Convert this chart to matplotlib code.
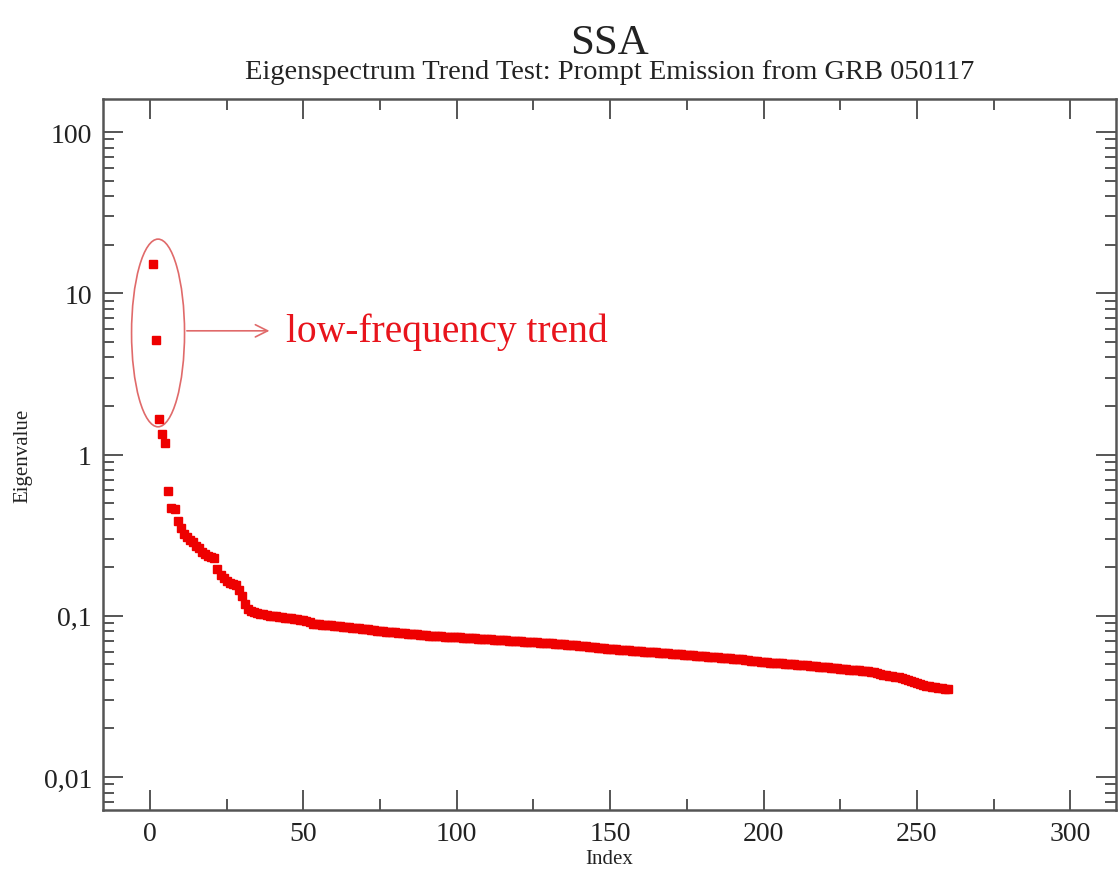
import numpy as np
import matplotlib
matplotlib.use('Agg')
from matplotlib import pyplot as plt
from matplotlib.patches import Ellipse
from matplotlib.ticker import FixedLocator, LogLocator, MultipleLocator, NullFormatter

# eigenvalues, index 1..260
eig_1_60 = [
    15.2, 5.15, 1.65, 1.34, 1.18, 0.594, 0.466, 0.462, 0.387, 0.352,
    0.322, 0.310, 0.295, 0.285, 0.272, 0.262, 0.250, 0.240, 0.236, 0.232,
    0.229, 0.196, 0.180, 0.172, 0.165, 0.159, 0.157, 0.155, 0.145, 0.133,
    0.119, 0.110, 0.107, 0.105, 0.104, 0.103, 0.102, 0.101, 0.100, 0.0995,
    0.0990, 0.0985, 0.0980, 0.0975, 0.0970, 0.0965, 0.0960, 0.0952, 0.0945, 0.0938,
    0.0930, 0.0920, 0.0895, 0.0890, 0.0886, 0.0882, 0.0878, 0.0875, 0.0871, 0.0867,
]
eig_61_130 = [
    0.0862, 0.0858, 0.0854, 0.0850, 0.0846, 0.0842, 0.0838, 0.0834, 0.0830, 0.0826,
    0.0822, 0.0818, 0.0814, 0.0810, 0.0806, 0.0802, 0.0798, 0.0795, 0.0791, 0.0788,
    0.0785, 0.0781, 0.0778, 0.0775, 0.0772, 0.0769, 0.0766, 0.0763, 0.0760, 0.0757,
    0.0754, 0.0751, 0.0749, 0.0747, 0.0745, 0.0743, 0.0741, 0.0739, 0.0737, 0.0735,
    0.0733, 0.0731, 0.0729, 0.0727, 0.0725, 0.0723, 0.0721, 0.0719, 0.0717, 0.0715,
    0.0713, 0.0711, 0.0709, 0.0707, 0.0705, 0.0703, 0.0701, 0.0699, 0.0697, 0.0695,
    0.0693, 0.0691, 0.0689, 0.0687, 0.0685, 0.0683, 0.0681, 0.0679, 0.0677, 0.0675,
]
eig_131_200 = [
    0.0673, 0.0671, 0.0669, 0.0667, 0.0665, 0.0663, 0.0660, 0.0657, 0.0654, 0.0651,
    0.0648, 0.0645, 0.0642, 0.0639, 0.0636, 0.0633, 0.0630, 0.0627, 0.0624, 0.0622,
    0.0620, 0.0618, 0.0616, 0.0614, 0.0612, 0.0610, 0.0608, 0.0606, 0.0604, 0.0602,
    0.0600, 0.0598, 0.0596, 0.0594, 0.0592, 0.0590, 0.0588, 0.0586, 0.0584, 0.0582,
    0.0580, 0.0578, 0.0576, 0.0574, 0.0572, 0.0570, 0.0568, 0.0566, 0.0564, 0.0562,
    0.0560, 0.0558, 0.0556, 0.0554, 0.0552, 0.0550, 0.0548, 0.0546, 0.0544, 0.0542,
    0.0540, 0.0538, 0.0536, 0.0533, 0.0530, 0.0527, 0.0524, 0.0521, 0.0518, 0.0515,
]
eig_201_260 = [
    0.0514, 0.0512, 0.0511, 0.0509, 0.0508, 0.0506, 0.0505, 0.0503, 0.0501, 0.0500,
    0.0498, 0.0496, 0.0494, 0.0492, 0.0490, 0.0488, 0.0486, 0.0484, 0.0482, 0.0480,
    0.0478, 0.0476, 0.0474, 0.0472, 0.0470, 0.0468, 0.0466, 0.0464, 0.0462, 0.0460,
    0.0458, 0.0456, 0.0455, 0.0454, 0.0450, 0.0446, 0.0441, 0.0436, 0.0431, 0.0426,
    0.0422, 0.0420, 0.0418, 0.0416, 0.0410, 0.0404, 0.0398, 0.0392, 0.0386, 0.0381,
    0.0376, 0.0372, 0.0368, 0.0365, 0.0362, 0.0359, 0.0357, 0.0355, 0.0353, 0.0351,
]
eigenvalues = eig_1_60 + eig_61_130 + eig_131_200 + eig_201_260
index = np.arange(1, len(eigenvalues) + 1)

y_ticks = [0.01, 0.1, 1, 10, 100]
y_labels = ['0,01', '0,1', '1', '10', '100']

plt.rcParams['font.family'] = ['Liberation Serif', 'DejaVu Serif']

fig = plt.figure(figsize=(11.2, 8.7), dpi=100)
ax = fig.add_axes([0.092, 0.0678, 0.9045, 0.8172])

ax.plot(index, eigenvalues, ls='none', marker='s', ms=5.5, color='#ee0000', mec='#ee0000')

ax.set_yscale('log')
ax.set_xlim(-15.3, 314.9)
ax.set_ylim(10**-2.205, 10**2.205)

ax.xaxis.set_major_locator(MultipleLocator(50))
ax.xaxis.set_minor_locator(MultipleLocator(25))
ax.yaxis.set_major_locator(FixedLocator(y_ticks))
ax.set_yticklabels(y_labels)
ax.yaxis.set_minor_locator(LogLocator(base=10, subs=np.arange(2, 10)))
ax.yaxis.set_minor_formatter(NullFormatter())

ax.tick_params(which='both', direction='in', top=True, right=True,
               color='#555555', width=1.4, labelsize=20, labelcolor='#222222')
ax.tick_params(which='major', length=14.5, pad=8)
ax.tick_params(which='minor', length=8)
for s in ax.spines.values():
    s.set_color('#555555')
    s.set_linewidth(1.8)

ax.set_xlabel('Index', fontsize=15, labelpad=2, color='#222222')
ax.set_ylabel('Eigenvalue', fontsize=15, labelpad=8, color='#222222')

fig.text(0.5445, 0.938, 'SSA', ha='center', va='baseline', fontsize=31, color='#222222')
fig.text(0.5445, 0.909, 'Eigenspectrum Trend Test: Prompt Emission from GRB 050117',
         ha='center', va='baseline', fontsize=20.5, color='#222222')

# annotation for the first three eigenvalues
ax.add_patch(Ellipse((0.0543, 0.671), 0.0523, 0.264, transform=ax.transAxes,
                     fill=False, ec='#e06a6a', lw=1.2))
ax.annotate('', xy=(0.167, 0.674), xytext=(0.080, 0.674), xycoords='axes fraction',
            arrowprops=dict(arrowstyle='->', color='#e06a6a', lw=1.2, mutation_scale=22))
ax.text(0.181, 0.674, 'low-frequency trend', transform=ax.transAxes,
        ha='left', va='center', fontsize=28.5, color='#e8141c')

fig.savefig('out.png', dpi=100)
